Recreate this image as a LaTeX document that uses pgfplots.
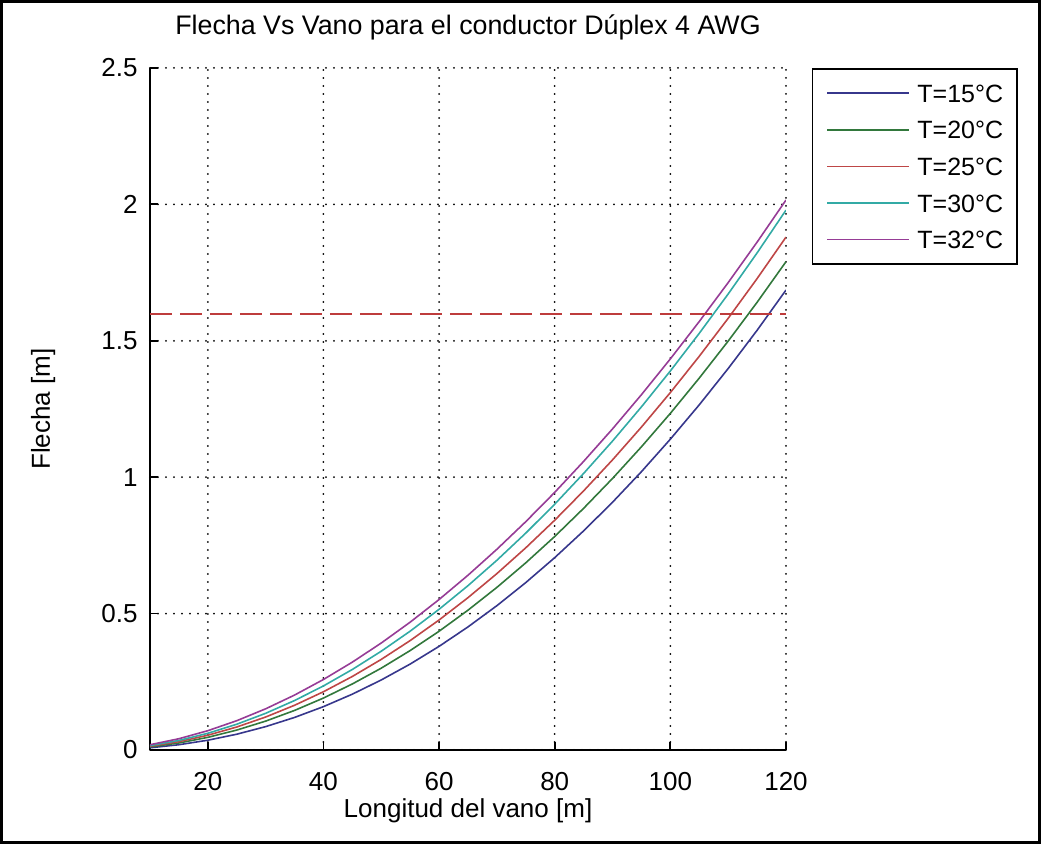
\documentclass[border=0pt]{standalone}
\usepackage{fontspec}
\setmainfont{Liberation Sans}
\usepackage{pgfplots}
\pgfplotsset{compat=1.18}
\definecolor{cA}{RGB}{55,55,140}
\definecolor{cB}{RGB}{50,120,60}
\definecolor{cC}{RGB}{190,70,70}
\definecolor{cD}{RGB}{50,170,165}
\definecolor{cE}{RGB}{150,60,150}
\definecolor{cDash}{RGB}{190,60,60}
\newcommand{\ff}{\fontsize{13}{15}\selectfont}
\newcommand{\ft}{\fontsize{13.4}{15}\selectfont}
\newcommand{\fl}{\fontsize{12.5}{15}\selectfont}
\begin{document}
\begin{tikzpicture}
\begin{axis}[
  scale only axis, width=318pt, height=341pt,
  xmin=10, xmax=120, ymin=0, ymax=2.5,
  xtick={20,40,60,80,100,120}, ytick={0,0.5,1,1.5,2,2.5},
  yticklabels={0,0.5,1,1.5,2,2.5},
  axis x line*=bottom, axis y line*=left,
  axis line style={line width=0.9pt, -},
  tick align=inside, major tick length=4pt,
  tick style={line width=0.9pt, black},
  grid=major,
  grid style={black, line width=1pt, line cap=round, dash pattern=on 0pt off 4pt},
  /pgf/number format/assume math mode=true,
  tick label style={font=\ff},
  xticklabel style={anchor=north, inner sep=0pt, yshift=-11pt},
  yticklabel style={anchor=east, inner sep=0pt, xshift=-6pt},
  title={Flecha Vs Vano para el conductor Dúplex 4 AWG},
  title style={font=\ft, at={(axis description cs:0.5,1)}, anchor=base, yshift=10.5pt},
  xlabel={Longitud del vano [m]},
  xlabel style={font=\ff, at={(axis description cs:0.5,0)}, anchor=base, yshift=-34pt},
  ylabel={Flecha [m]},
  ylabel style={font=\ff, at={(axis description cs:-0.168,0.5)}, anchor=center, rotate=0},
  legend style={at={(axis description cs:1.0404,1)}, anchor=north west, draw=black, line width=0.9pt,
    inner xsep=7pt, inner ysep=7.7pt, row sep=9.3pt, column sep=4pt, font=\fl,
    nodes={inner sep=0pt, text height=9pt, text depth=0pt}},
  legend cell align=left,
  legend image code/.code={\draw[#1, line width=0.8pt] (0pt,0pt) -- (40.6pt,0pt);},
]
\addplot[cA, line width=0.8pt] coordinates {
(10,0.0081)(15,0.0193)(20,0.0358)(25,0.0578)(30,0.0856)(35,0.1193)(40,0.1589)(45,0.2047)
(50,0.2567)(55,0.3150)(60,0.3799)(65,0.4512)(70,0.5291)(75,0.6138)(80,0.7051)(85,0.8033)
(90,0.9082)(95,1.0203)(100,1.1394)(105,1.2653)(110,1.3983)(115,1.5384)(120,1.686)};
\addlegendentry{T=15°C}
\addplot[cB, line width=0.8pt] coordinates {
(10,0.0113)(15,0.0257)(20,0.0463)(25,0.0730)(30,0.1058)(35,0.1450)(40,0.1904)(45,0.2421)
(50,0.3000)(55,0.3645)(60,0.4353)(65,0.5125)(70,0.5961)(75,0.6862)(80,0.7827)(85,0.8859)
(90,0.9954)(95,1.1115)(100,1.2340)(105,1.3633)(110,1.4989)(115,1.6410)(120,1.79)};
\addlegendentry{T=20°C}
\addplot[cC, line width=0.8pt] coordinates {
(10,0.0137)(15,0.0306)(20,0.0541)(25,0.0842)(30,0.1208)(35,0.1639)(40,0.2135)(45,0.2696)
(50,0.3321)(55,0.4011)(60,0.4766)(65,0.5584)(70,0.6466)(75,0.7413)(80,0.8423)(85,0.9499)
(90,1.0636)(95,1.1838)(100,1.3103)(105,1.4433)(110,1.5824)(115,1.7280)(120,1.88)};
\addlegendentry{T=25°C}
\addplot[cD, line width=0.8pt] coordinates {
(10,0.0160)(15,0.0350)(20,0.0612)(25,0.0944)(30,0.1344)(35,0.1813)(40,0.2348)(45,0.2952)
(50,0.3621)(55,0.4356)(60,0.5158)(65,0.6024)(70,0.6955)(75,0.7952)(80,0.9011)(85,1.0138)
(90,1.1325)(95,1.2579)(100,1.3894)(105,1.5274)(110,1.6716)(115,1.8221)(120,1.979)};
\addlegendentry{T=30°C}
\addplot[cE, line width=0.8pt] coordinates {
(10,0.0193)(15,0.0413)(20,0.0707)(25,0.1073)(30,0.1509)(35,0.2013)(40,0.2584)(45,0.3221)
(50,0.3921)(55,0.4686)(60,0.5516)(65,0.6406)(70,0.7358)(75,0.8371)(80,0.9444)(85,1.0579)
(90,1.1771)(95,1.3025)(100,1.4337)(105,1.5707)(110,1.7133)(115,1.8616)(120,2.016)};
\addlegendentry{T=32°C}
\addplot[cDash, line width=1pt, dash pattern=on 11pt off 4pt, forget plot] coordinates {(10,1.6)(120,1.6)};
\end{axis}
\draw[line width=1.5pt] (-74.25pt,-46.25pt) rectangle (444.75pt,374.25pt);
\end{tikzpicture}
\end{document}
